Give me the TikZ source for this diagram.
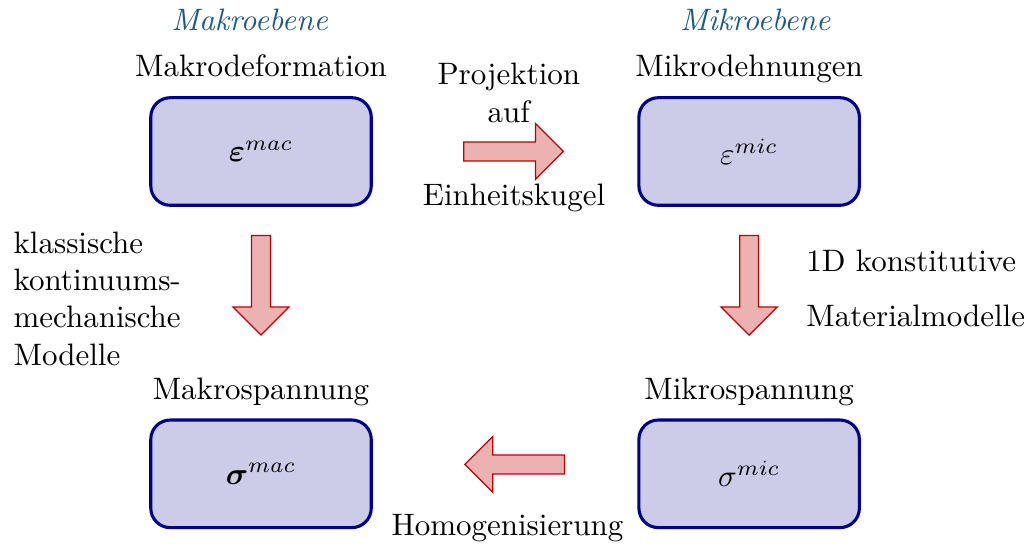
\documentclass[tikz,border=0pt]{standalone}
\usepackage{amsmath}
\usepackage{tikz}
\usetikzlibrary{positioning,shapes.arrows}

\definecolor{ebenefarbe}{RGB}{30,90,135}

\begin{document}
\begin{tikzpicture}[node distance=2.4cm and 3cm,
  zustand/.style={draw=blue!55!black,fill=blue!55!black!20,line width=1pt,rounded corners=2.2mm,minimum width=2.5cm,minimum height=1.22cm},
  pfeil/.style={single arrow,draw=red!75!black,fill=red!75!black!30,minimum height=1.13cm,inner sep=0.1cm,single arrow head extend=0.21cm},
  titel/.style={anchor=base},
  ebene/.style={anchor=base,text=ebenefarbe,font=\itshape}]

\useasboundingbox (-2.96,-4.485) rectangle (8.709,1.718);

\node[zustand] (epsmac) {$\boldsymbol{\varepsilon}^{mac}$};
\node[zustand] (epsmic) [right=of epsmac] {$\varepsilon^{mic}$};
\node[zustand] (sigmac) [below=of epsmac] {$\boldsymbol{\sigma}^{mac}$};
\node[zustand] (sigmic) [below=of epsmic] {$\sigma^{mic}$};

\node (tepsmac) [above=2.2mm of epsmac,titel] {Makrodeformation};
\node (tepsmic) [above=2.2mm of epsmic,titel] {Mikrodehnungen};
\node (tsigmac) [above=2.2mm of sigmac,titel] {Makrospannung};
\node (tsigmic) [above=2.2mm of sigmic,titel] {Mikrospannung};

\node (makro) [above=5.2mm of tepsmac.base,ebene,xshift=-1.3mm] {Makroebene};
\node (mikro) [above=5.2mm of tepsmic.base,ebene,xshift=0.7mm] {Mikroebene};

\node[pfeil] (proj) at (2.81,0) {};
\node[pfeil,shape border rotate=270] (klass) at (0,-1.463) {};
\node[pfeil,shape border rotate=270] (konst) at (epsmic |- klass) {};
\node[pfeil,shape border rotate=180] (homog) at (2.93,-3.549) {};

\node[align=center,anchor=south] (projtxt) at (2.81,0.206) {Projektion\\auf};
\node[anchor=base] (kugel) at (2.87,-0.618) {Einheitskugel};
\node[anchor=base] (homogtxt) at (2.795,-4.36) {Homogenisierung};
\node[align=left,anchor=north west] (klasstxt) at (-2.93,-0.789) {klassische\\kontinuums-\\mechanische\\Modelle};
\node[anchor=base west] (konst1) at (6.06,-1.366) {1D konstitutive};
\node[anchor=base west] (konst2) at (6.06,-1.99) {Materialmodelle};
\end{tikzpicture}
\end{document}
